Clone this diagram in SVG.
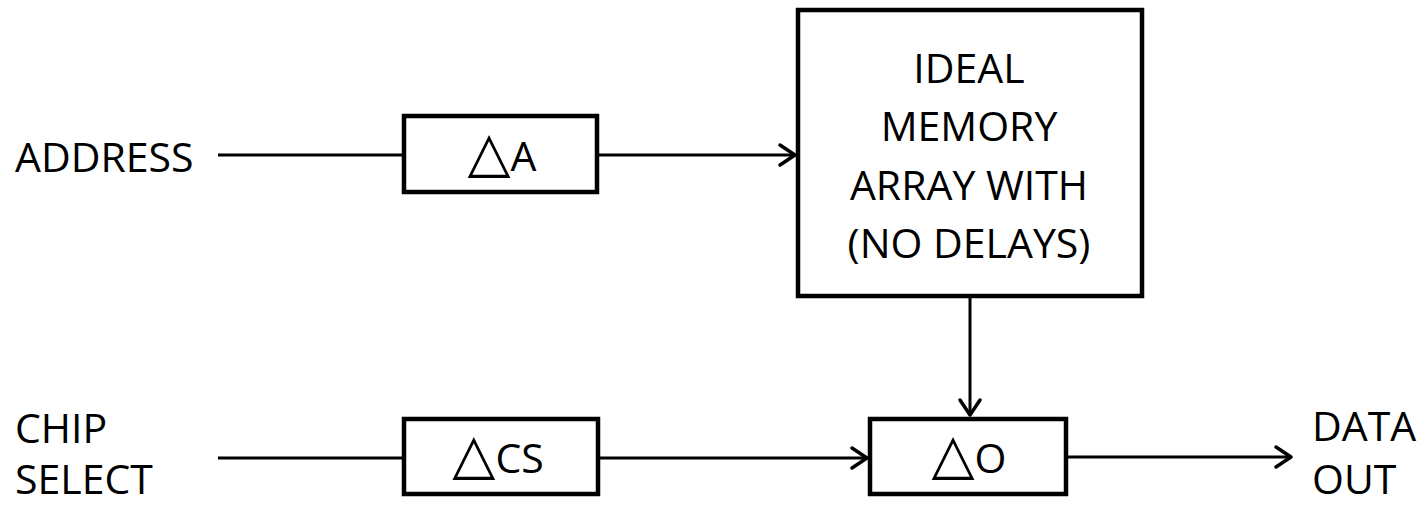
<svg xmlns="http://www.w3.org/2000/svg" width="1420" height="505" viewBox="0 0 1420 505">
  <style>
    .box { fill: #ffffff; stroke: #000000; stroke-width: 4.5; }
    .wire { fill: none; stroke: #000000; stroke-width: 3; }
    .lbl { font-family: "Open Sans", "DejaVu Sans", sans-serif; font-size: 41px; fill: #000000; }
    .mid { text-anchor: middle; }
    .tri { font-family: "DejaVu Sans", sans-serif; font-size: 56px; }
  </style>
  <defs>
    <marker id="head" markerUnits="userSpaceOnUse" markerWidth="30" markerHeight="30" viewBox="-20 -15 30 30" refX="0" refY="0" orient="auto">
      <path d="M -15 -10 L 0 0 L -15 10" fill="none" stroke="#000000" stroke-width="3.5" stroke-linecap="round" stroke-linejoin="round"/>
    </marker>
  </defs>

  <rect width="1420" height="505" fill="#ffffff"/>

  <!-- signal wires -->
  <g id="connectors">
    <line class="wire" x1="218" y1="155" x2="404" y2="155"/>
    <line class="wire" x1="597" y1="155" x2="795" y2="155" marker-end="url(#head)"/>
    <line class="wire" x1="970" y1="296" x2="970" y2="415" marker-end="url(#head)"/>
    <line class="wire" x1="218" y1="458" x2="404" y2="458"/>
    <line class="wire" x1="598" y1="458" x2="867" y2="458" marker-end="url(#head)"/>
    <line class="wire" x1="1066" y1="457" x2="1291" y2="457" marker-end="url(#head)"/>
  </g>

  <!-- input / output labels -->
  <g id="address">
    <text class="lbl" x="15" y="172">ADDRESS</text>
  </g>
  <g id="chip-select">
    <text class="lbl" x="15" y="443">CHIP</text>
    <text class="lbl" x="15" y="494">SELECT</text>
  </g>
  <g id="data-out">
    <text class="lbl" x="1312" y="441">DATA</text>
    <text class="lbl" x="1312" y="494">OUT</text>
  </g>

  <!-- delay blocks -->
  <g id="delay-a">
    <rect class="box" x="404" y="116" width="193" height="76"/>
    <text class="lbl mid" x="502" y="171"><tspan class="tri">△</tspan>A</text>
  </g>
  <g id="delay-cs">
    <rect class="box" x="404" y="419" width="194" height="75"/>
    <text class="lbl mid" x="498" y="473"><tspan class="tri">△</tspan>CS</text>
  </g>
  <g id="delay-o">
    <rect class="box" x="870" y="419" width="196" height="75"/>
    <text class="lbl mid" x="969" y="473"><tspan class="tri">△</tspan>O</text>
  </g>

  <!-- memory array -->
  <g id="memory">
    <rect class="box" x="798" y="10" width="344" height="286"/>
    <text class="lbl mid" x="969" y="83">IDEAL</text>
    <text class="lbl mid" x="969" y="141">MEMORY</text>
    <text class="lbl mid" x="969" y="200">ARRAY WITH</text>
    <text class="lbl mid" x="969" y="258">(NO DELAYS)</text>
  </g>
</svg>
